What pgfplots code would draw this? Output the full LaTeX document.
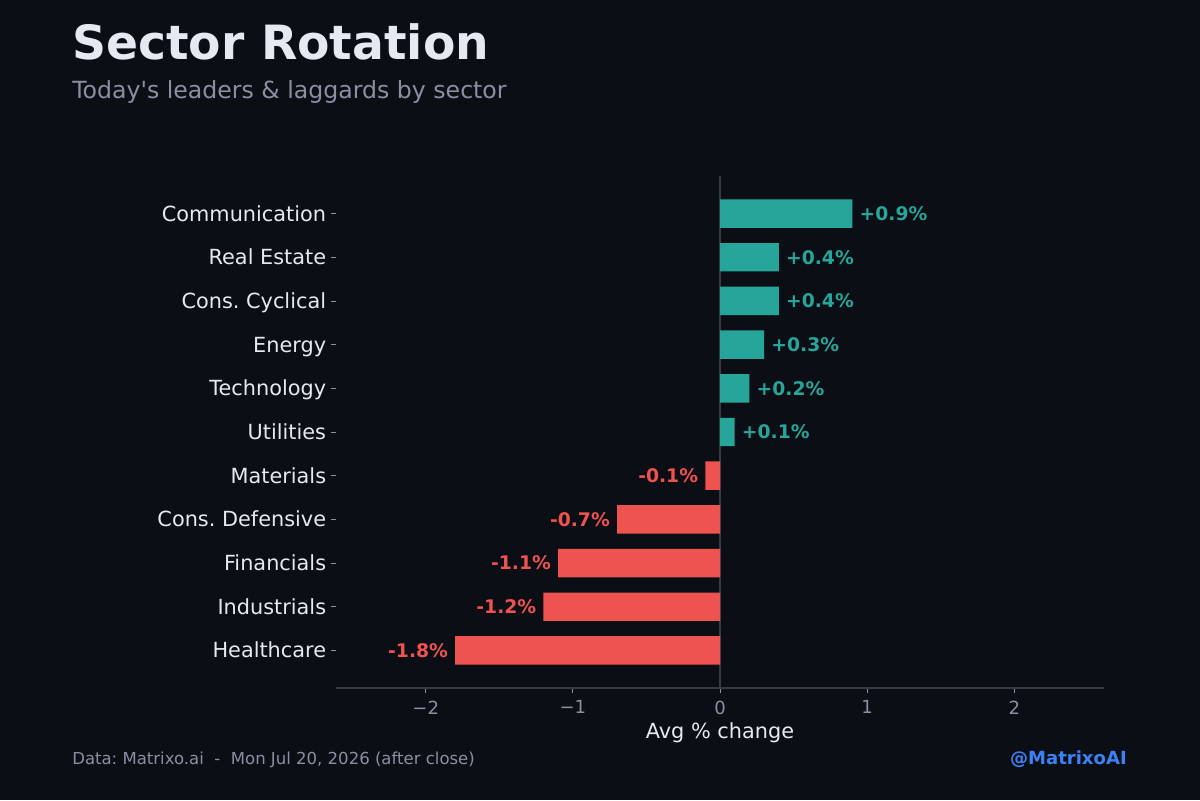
\documentclass[border=0pt]{standalone}
\usepackage{fontspec}
\setmainfont{DejaVu Sans}[Ligatures=TeXOff]
\usepackage{pgfplots}
\pgfplotsset{compat=1.18}
\frenchspacing

\definecolor{bg}{HTML}{0B0E14}
\definecolor{fg}{HTML}{E6E9F2}
\definecolor{muted}{HTML}{8A90A2}
\definecolor{spine}{HTML}{363B46}
\definecolor{up}{HTML}{26A69A}
\definecolor{down}{HTML}{EF5350}
\definecolor{handle}{HTML}{3B82F6}

\begin{document}
\begin{tikzpicture}[x=0.72pt,y=0.72pt]
  % canvas (1200 x 800 units)
  \fill[bg] (0,0) rectangle (1200,800);

  \begin{axis}[
    at={(241.92pt,80.64pt)}, anchor=south west,
    width=552.96pt, height=368.64pt, scale only axis,
    xmin=-2.61, xmax=2.61, ymin=-0.86, ymax=10.86,
    xbar, bar width=0.65,
    axis line style={draw=none},
    tick pos=left, tick align=outside,
    major tick length=3.6pt,
    tick style={color=muted, line width=0.6pt},
    xtick={-2,-1,0,1,2}, xticklabels={−2,−1,0,1,2},
    ytick={0,1,2,3,4,5,6,7,8,9,10},
    yticklabels={Healthcare,Industrials,Financials,Cons. Defensive,Materials,Utilities,Technology,Energy,Cons. Cyclical,Real Estate,Communication},
    xticklabel style={font=\fontsize{13}{16}\selectfont, color=muted, yshift=-2pt},
    yticklabel style={font=\fontsize{15}{18}\selectfont, color=fg,
      anchor=base east, yshift=-5.4pt},
    clip=false,
  ]
    \draw[spine, line width=0.8pt] (axis cs:0,-0.86) -- (axis cs:0,10.86);
    \draw[spine, line width=0.8pt] (rel axis cs:0,0) -- (rel axis cs:1,0);

    % gainers
    \addplot[fill=up, draw=none, bar shift=0pt,
      point meta=explicit symbolic, nodes near coords,
      nodes near coords style={anchor=west, inner sep=0pt, xshift=5pt,
        text=up, font=\bfseries\fontsize{13.5}{16}\selectfont}]
      coordinates {
        (0.9,10) [+0.9\%]
        (0.4,9)  [+0.4\%]
        (0.4,8)  [+0.4\%]
        (0.3,7)  [+0.3\%]
        (0.2,6)  [+0.2\%]
        (0.1,5)  [+0.1\%]
      };
    % decliners
    \addplot[fill=down, draw=none, bar shift=0pt,
      point meta=explicit symbolic, nodes near coords,
      nodes near coords style={anchor=east, inner sep=0pt, xshift=-5pt,
        text=down, font=\bfseries\fontsize{13.5}{16}\selectfont}]
      coordinates {
        (-0.1,4) [-0.1\%]
        (-0.7,3) [-0.7\%]
        (-1.1,2) [-1.1\%]
        (-1.2,1) [-1.2\%]
        (-1.8,0) [-1.8\%]
      };
  \end{axis}

  % titles and footer
  \node[anchor=base west, inner sep=0pt, text=fg]
    at (72,740) {\bfseries\fontsize{34}{40}\selectfont Sector Rotation};
  \node[anchor=base west, inner sep=0pt, text=muted]
    at (72,701) {\fontsize{17}{20}\selectfont Today's leaders \& laggards by sector};
  \node[anchor=base, inner sep=0pt, text=fg]
    at (720,62) {\fontsize{15}{18}\selectfont Avg \% change};
  \node[anchor=base west, inner sep=0pt, text=muted]
    at (72,36) {\fontsize{11.9}{14}\selectfont Data: Matrixo.ai\ \ -\ \ Mon Jul 20, 2026 (after close)};
  \node[anchor=base east, inner sep=0pt, text=handle]
    at (1127,36) {\bfseries\fontsize{13}{16}\selectfont @MatrixoAI};
\end{tikzpicture}
\end{document}
